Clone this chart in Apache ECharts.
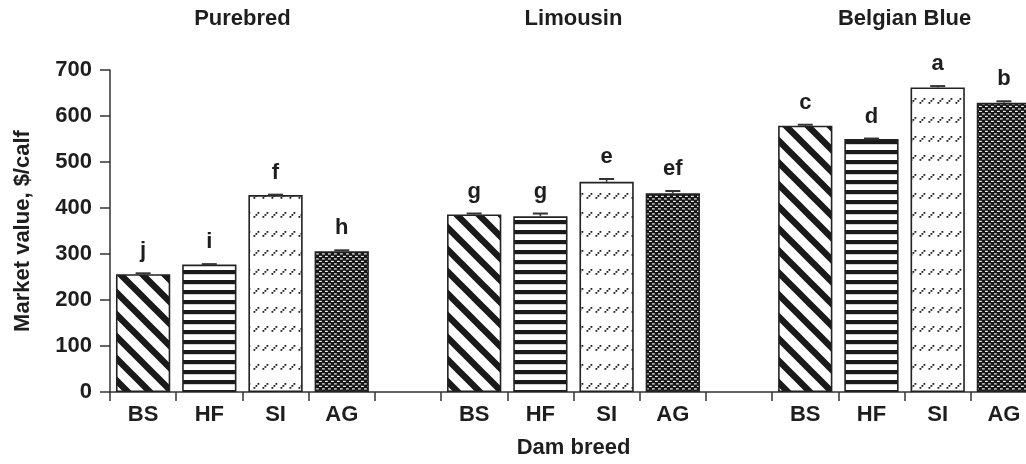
<!DOCTYPE html>
<html>
<head>
<meta charset="utf-8">
<script src="https://cdn.jsdelivr.net/npm/echarts@6/dist/echarts.min.js"></script>
<style>
html,body{margin:0;padding:0;background:#fff;overflow:hidden;width:1026px;height:464px;}
#c{width:1050px;height:464px;}
</style>
</head>
<body>
<div id="c"></div>
<script>
// ---- data ----
const groups = ['Purebred', 'Limousin', 'Belgian Blue'];
const breeds = ['BS', 'HF', 'SI', 'AG'];
const purebredValues = [256, 277, 428, 306];
const limousinValues = [386, 382, 457, 432];
const belgianValues = [579, 550, 662, 629];
const purebredErrors = [2, 1, 1, 2];
const limousinErrors = [2, 6, 6, 5];
const belgianErrors = [2, 1, 3, 3];
const purebredLetters = ['j', 'i', 'f', 'h'];
const limousinLetters = ['g', 'g', 'e', 'ef'];
const belgianLetters = ['c', 'd', 'a', 'b'];
const yTicks = [0, 100, 200, 300, 400, 500, 600, 700];

// ---- patterns ----
function mk(w, h, draw) {
  const c = document.createElement('canvas');
  c.width = w; c.height = h;
  const g = c.getContext('2d');
  draw(g, w, h);
  return { image: c, repeat: 'repeat' };
}
const patBS = mk(22, 22, (g, w, h) => {
  g.fillStyle = '#fff'; g.fillRect(0, 0, w, h);
  g.strokeStyle = '#1a1a1a'; g.lineWidth = 6.5;
  g.beginPath();
  g.moveTo(-w, -h); g.lineTo(2 * w, 2 * h);
  g.moveTo(-w, 0); g.lineTo(w, 2 * h);
  g.moveTo(0, -h); g.lineTo(2 * w, h);
  g.stroke();
});
const patHF = mk(10, 10.5, (g, w, h) => {
  g.fillStyle = '#fff'; g.fillRect(0, 0, w, h);
  g.fillStyle = '#1a1a1a'; g.fillRect(0, 0, w, 4.2);
});
const patSI = mk(9, 19, (g, w, h) => {
  g.fillStyle = '#fff'; g.fillRect(0, 0, w, h);
  g.fillStyle = '#222';
  g.fillRect(1.5, 7, 1.8, 1.8);
  g.fillRect(3.5, 5, 1.8, 1.8);
  g.fillRect(5.5, 3, 1.8, 1.8);
});
const patAG = mk(6, 5, (g, w, h) => {
  g.fillStyle = '#161616'; g.fillRect(0, 0, w, h);
  g.fillStyle = '#f0f0f0';
  g.fillRect(1, 0.8, 2.8, 1.2);
  g.fillRect(4, 3.3, 2.8, 1.2);
  g.fillRect(-2, 3.3, 2.8, 1.2);
});
const patterns = [patBS, patHF, patSI, patAG];

// ---- build slots ----
const groupValues = [purebredValues, limousinValues, belgianValues];
const groupErrors = [purebredErrors, limousinErrors, belgianErrors];
const groupLetters = [purebredLetters, limousinLetters, belgianLetters];
const categories = [];
const barData = [];
const errData = [];
const letterList = [];
const groupRanges = [];
groups.forEach((gname, gi) => {
  const start = categories.length;
  breeds.forEach((b, bi) => {
    const idx = categories.length;
    categories.push(b);
    barData.push({ value: groupValues[gi][bi], itemStyle: { color: patterns[bi] } });
    errData.push([idx, groupValues[gi][bi], groupErrors[gi][bi]]);
    letterList.push(groupLetters[gi][bi]);
  });
  groupRanges.push([start, categories.length - 1]);
  if (gi < groups.length - 1) { categories.push(''); barData.push(null); }
});

const FONT = 'Liberation Sans';
const TXT = '#1e1e1e';
const chart = echarts.init(document.getElementById('c'), null, { renderer: 'canvas' });
chart.setOption({
  animation: false,
  backgroundColor: '#fff',
  grid: { left: 110, right: 13, top: 70, bottom: 70 },
  xAxis: {
    type: 'category',
    data: categories,
    name: 'Dam breed',
    nameLocation: 'middle',
    nameGap: 45,
    nameTextStyle: { fontFamily: FONT, fontWeight: 'bold', fontSize: 22, color: TXT },
    axisLine: { lineStyle: { color: '#333', width: 1.5 } },
    axisTick: { show: true, length: 9, alignWithLabel: false, interval: 0, lineStyle: { color: '#333', width: 1.5 } },
    axisLabel: { interval: 0, margin: 12, fontFamily: FONT, fontWeight: 'bold', fontSize: 22, color: TXT },
    splitLine: { show: false }
  },
  yAxis: {
    type: 'value',
    min: 0, max: 700, interval: 100,
    name: 'Market value, $/calf',
    nameLocation: 'middle',
    nameGap: 76,
    nameRotate: 90,
    nameTextStyle: { fontFamily: FONT, fontWeight: 'bold', fontSize: 22, color: TXT },
    axisLine: { show: true, lineStyle: { color: '#333', width: 1.5 } },
    axisTick: { show: true, length: 10, lineStyle: { color: '#333', width: 1.5 } },
    axisLabel: { margin: 18, fontFamily: FONT, fontWeight: 'bold', fontSize: 22, color: TXT,
      formatter: v => yTicks.includes(v) ? String(v) : '' },
    splitLine: { show: false }
  },
  series: [
    {
      type: 'bar',
      data: barData,
      barWidth: '82%',
      itemStyle: { borderColor: '#222', borderWidth: 1.6 },
      z: 2
    },
    {
      type: 'custom',
      data: errData,
      z: 3,
      renderItem: function (params, api) {
        const x = api.value(0), v = api.value(1), e = api.value(2);
        const p0 = api.coord([x, v]);
        const p1 = api.coord([x, v + e]);
        const hw = 7.5;
        return {
          type: 'group',
          children: [
            { type: 'line', shape: { x1: p0[0], y1: p0[1], x2: p1[0], y2: p1[1] }, style: { stroke: '#333', lineWidth: 1.5 } },
            { type: 'line', shape: { x1: p1[0] - hw, y1: p1[1], x2: p1[0] + hw, y2: p1[1] }, style: { stroke: '#333', lineWidth: 2 } },
            { type: 'text', x: p1[0], y: p1[1] - 11, style: { text: letterList[params.dataIndex], fill: TXT,
              font: 'bold 22px "Liberation Sans"', align: 'center', verticalAlign: 'bottom' } }
          ]
        };
      }
    }
  ]
});

// group titles positioned from the axis scale
const titleGraphics = groups.map((g, i) => {
  const a = chart.convertToPixel({ xAxisIndex: 0 }, groupRanges[i][0]);
  const b = chart.convertToPixel({ xAxisIndex: 0 }, groupRanges[i][1]);
  return { type: 'text', x: (a + b) / 2, y: 19, style: { text: g, fill: TXT, font: 'bold 22px "Liberation Sans"', align: 'center', verticalAlign: 'middle' } };
});
chart.setOption({ graphic: titleGraphics });
</script>
</body>
</html>
